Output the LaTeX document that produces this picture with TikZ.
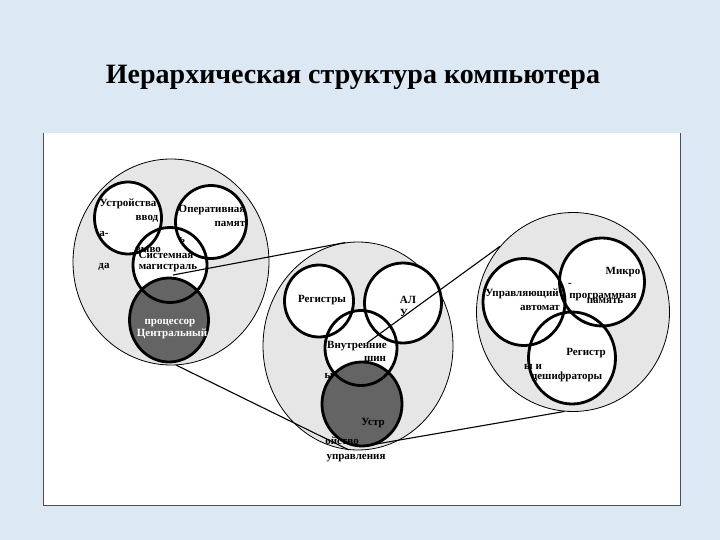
\documentclass[tikz,border=0pt]{standalone}
\usepackage{fontspec}
\setmainfont{Liberation Serif}
\newfontfamily\slidefont{Liberation Serif}
\usetikzlibrary{shapes.geometric}

\definecolor{slidebg}{RGB}{220,232,243}
\definecolor{outerfill}{RGB}{230,230,230}
\definecolor{corefill}{RGB}{100,100,100}

\tikzset{
  outer/.style={ellipse, draw, line width=0.8pt, fill=outerfill, inner sep=0pt},
  unit/.style={ellipse, inner sep=0pt},
  rim/.style={ellipse, draw, line width=2.8pt, inner sep=0pt},
  lbl/.style={font=\slidefont\fontsize{11}{12}\selectfont\bfseries, inner sep=0pt},
  zoomline/.style={line width=1.1pt}
}

% name/x/y/width/height/fill
\newcommand{\leftunits}{io/128/218/67/72/white, ram/211/222/71/73/white, bus/170/265/74/75/white, cpu/169/320/79/84/corefill}
\newcommand{\midunits}{regs/319/301/69/72/white, alu/403/303/77/80/white, ibus/361/348/72/75/white, cu/362/404/80/84/corefill}
\newcommand{\rightunits}{fsm/524/302/82/87/white, mprog/602/282/85/88/white, decs/572/358/87/92/white}

\begin{document}
\begin{tikzpicture}[x=1pt, y=-1pt]
  \useasboundingbox (0,0) rectangle (720,540);
  \fill[slidebg] (0,0) rectangle (720,540);

  % Title and sheet
  \node[font=\slidefont\fontsize{28}{32}\selectfont\bfseries] (title) at (353,77) {Иерархическая структура компьютера};
  \fill[white] (43,133) rectangle (680,505);
  \draw[black!70, line width=0.8pt] (43,133) -- (43,505) -- (680,505) -- (680,133);

  % Define nodes
  \node[outer, minimum width=196pt, minimum height=206pt] (left) at (171,262) {};
  \node[outer, minimum width=190pt, minimum height=208pt] (mid) at (358,346) {};
  \node[outer, minimum width=193pt, minimum height=199pt] (right) at (573,312) {};

  \foreach \n/\x/\y/\w/\h/\c in \leftunits
    \node[unit, fill=\c, minimum width=\w pt, minimum height=\h pt] (\n) at (\x,\y) {};
  \foreach \n/\x/\y/\w/\h/\c in \leftunits
    \node[rim, minimum width=\w pt, minimum height=\h pt] at (\n) {};

  \foreach \n/\x/\y/\w/\h/\c in \midunits
    \node[unit, fill=\c, minimum width=\w pt, minimum height=\h pt] (\n) at (\x,\y) {};
  \foreach \n/\x/\y/\w/\h/\c in \midunits
    \node[rim, minimum width=\w pt, minimum height=\h pt] at (\n) {};

  \foreach \n/\x/\y/\w/\h/\c in \rightunits
    \node[unit, fill=\c, minimum width=\w pt, minimum height=\h pt] (\n) at (\x,\y) {};
  \foreach \n/\x/\y/\w/\h/\c in \rightunits
    \node[rim, minimum width=\w pt, minimum height=\h pt] at (\n) {};

  % Labels, broken as on the slide
  \foreach \n/\x/\y/\t in {ioA/128/204/Устройства, ioB/147/219/ввод, ioC/104/234/а-,
      ioD/148/250/выво, ioE/104/267/да, ramA/212/210/Оперативная, ramB/230/224/памят,
      ramC/182/240/ь, busA/166/255/Системная, busB/168/268/магистраль,
      regsA/322/300/Регистры, aluA/408/300/АЛ, aluB/404/313/У,
      ibusA/357/346/Внутренние, ibusB/375/359/шин, ibusC/329/376/ы,
      cuA/373/423/Устр, cuB/342/441/ойство, cuC/356/458/управления,
      mprogA/623/272/Микро, mprogB/570/285/-, mprogC/605/301/память, mprogD/603/297/программная,
      fsmA/522/294/Управляющий, fsmB/540/308/автомат,
      decsA/586/353/Регистр, decsB/533/367/ы и, decsC/567/377/дешифраторы}
    \node[lbl] (\n) at (\x,\y) {\t};
  \node[lbl, text=white] (cpuA) at (170,323) {процессор};
  \node[lbl, text=white] (cpuB) at (172,334) {Центральный};

  % Connect the nodes
  \coordinate (fromcpu) at (173,275);
  \coordinate (fromcu) at (367,343);
  \draw[zoomline] (fromcpu) -- (mid.97);
  \draw[zoomline] (left.-87) -- (mid.-95);
  \draw[zoomline] (fromcu) -- (right.138);
  \draw[zoomline] (cu.-75) -- (right.-95);
\end{tikzpicture}
\end{document}
